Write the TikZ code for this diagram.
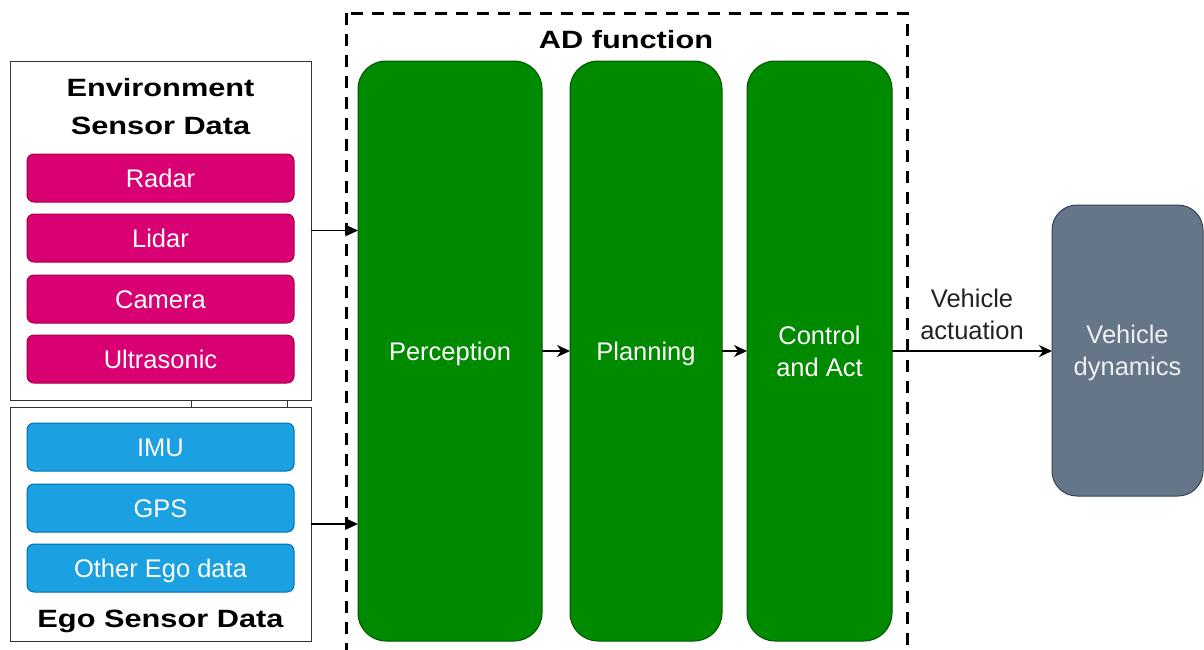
\documentclass[tikz,border=0pt]{standalone}
\usepackage{fontspec}
\setmainfont{Liberation Sans}
\newfontfamily\headfont[FakeStretch=1.23]{Liberation Sans}
\usetikzlibrary{arrows.meta}

\definecolor{sensorpink}{HTML}{D80073}
\definecolor{sensorpinkline}{HTML}{A50040}
\definecolor{egoblue}{HTML}{1BA1E2}
\definecolor{egoblueline}{HTML}{006EAF}
\definecolor{adgreen}{HTML}{008A00}
\definecolor{adgreenline}{HTML}{005700}
\definecolor{vdgrey}{HTML}{647687}
\definecolor{vdgreyline}{HTML}{314354}
\definecolor{labelgrey}{HTML}{222222}

\begin{document}
\begin{tikzpicture}[x=1pt, y=-1pt,
  txt/.style={font=\fontsize{25.5}{32}\selectfont, text height=18.3pt,
    text depth=0pt, inner sep=0pt, outer sep=0pt, align=center},
  twolines/.style={text height=50.3pt},
  head/.style={font=\headfont\bfseries\fontsize{25}{38}\selectfont,
    text height=18pt, text depth=0pt, inner sep=0pt, align=center},
  group/.style={draw=black!80, line width=1pt, fill=white, inner sep=0pt,
    outer sep=0pt, minimum width=301pt},
  sensor/.style={txt, text=white, rounded corners=7pt, line width=1pt,
    minimum width=267pt, minimum height=48pt},
  envsensor/.style={sensor, fill=sensorpink, draw=sensorpinkline},
  egosensor/.style={sensor, fill=egoblue, draw=egoblueline},
  stage/.style={txt, text=white, fill=adgreen, draw=adgreenline,
    line width=1pt, rounded corners=28pt, minimum height=580pt},
  plant/.style={txt, twolines, text=white!94!black, fill=vdgrey,
    draw=vdgreyline, line width=1pt, rounded corners=25pt,
    minimum width=151pt, minimum height=291pt},
  flow/.style={line width=1.8pt, -{Stealth[length=13pt, width=12pt, inset=4pt]}},
  frame/.style={draw=black, line width=3pt, dash pattern=on 12pt off 9pt}
]
\useasboundingbox (0,0) rectangle (1204,649);

% AD function frame (its bottom edge runs off the page)
\path[frame] (346,13) rectangle (907,668);
\node[head] (adtitle) at (626,39) {AD function};

% sensor groups
\node[group, minimum height=339pt] (env) at (160.5,230.5) {};
\node[group, minimum height=234pt] (ego) at (160.5,524) {};
\draw[line width=1pt, black!80] (env.south -| 191,0) -- (ego.north -| 191,0);
\draw[line width=1pt, black!80] (env.south -| 287,0) -- (ego.north -| 287,0);

\node[head, text height=56pt] (envtitle) at (160.5,106) {Environment\\Sensor Data};
\node[head] (egotitle) at (160.5,618) {Ego Sensor Data};

\node[envsensor] (radar)  at (160.5,178) {Radar};
\node[envsensor] (lidar)  at (160.5,238) {Lidar};
\node[envsensor] (camera) at (160.5,299) {Camera};
\node[envsensor] (ultra)  at (160.5,359) {Ultrasonic};

\node[egosensor] (imu)   at (160.5,447) {IMU};
\node[egosensor] (gps)   at (160.5,508) {GPS};
\node[egosensor] (other) at (160.5,568) {Other Ego data};

% processing stages
\node[stage, minimum width=184pt] (perc) at (450,351) {Perception};
\node[stage, minimum width=152pt] (plan) at (646,351) {Planning};
\node[stage, twolines, minimum width=145pt] (ctrl) at (819.5,351) {Control\\and Act};

% vehicle
\node[plant] (vd) at (1127.5,350.5) {Vehicle\\dynamics};

% connectors
\draw[flow] (env.east) -- (env.east -| perc.west);
\draw[flow] (ego.east) -- (ego.east -| perc.west);
\draw[flow] (perc.east) -- (plan.west);
\draw[flow] (plan.east) -- (ctrl.west);
\draw[flow] (ctrl.east) -- node[txt, twolines, text=labelgrey, anchor=south,
  yshift=12pt] (actlabel) {Vehicle\\actuation} (ctrl.east -| vd.west);
\end{tikzpicture}
\end{document}
